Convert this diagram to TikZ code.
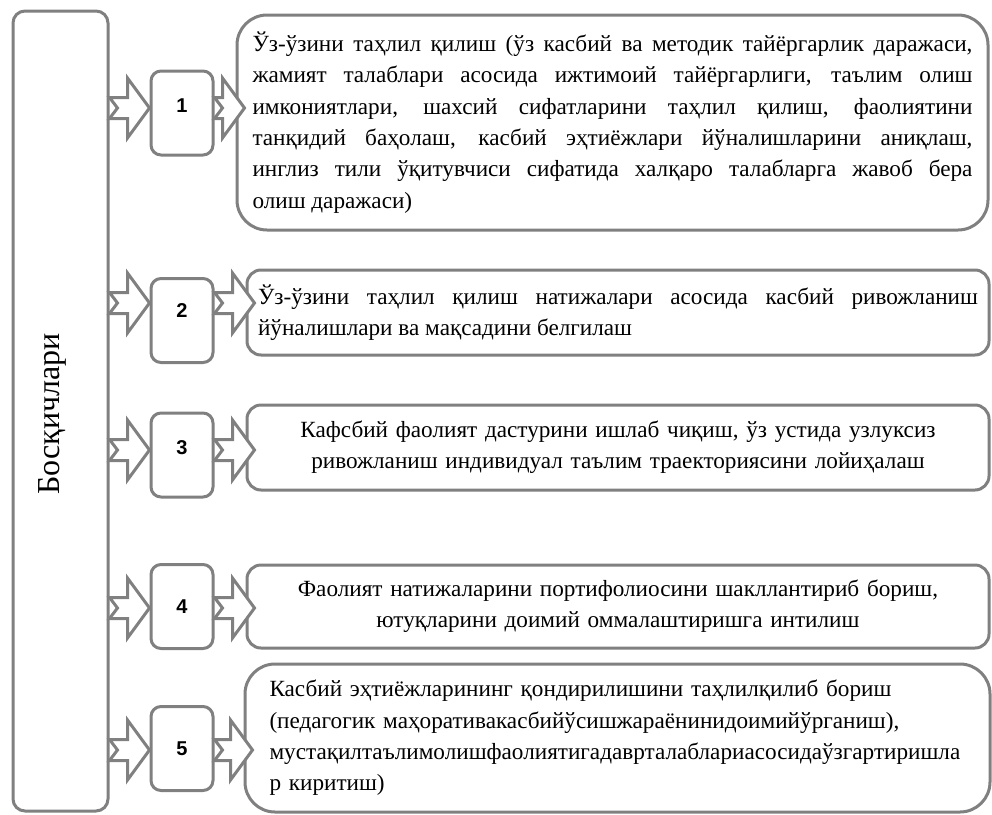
\documentclass[tikz,border=0pt]{standalone}
\usepackage{fontspec}
\setmainfont{Liberation Serif}
\newfontfamily\numfont{Liberation Sans}
\usetikzlibrary{calc}
\definecolor{linegray}{RGB}{128,128,128}
\tikzset{
  outline/.style={draw=linegray, line width=2.25pt, fill=white},
  numbox/.style={outline, rounded corners=7.5pt, minimum width=46.5pt, minimum height=63pt,
    font=\numfont\bfseries\fontsize{15}{18}\selectfont},
  textbox/.style={outline, minimum width=556.5pt, inner sep=0pt,
    font=\fontsize{17.4}{23.5}\selectfont},
  arrowline/.style={outline, line join=miter}
}
% block arrow: from node, tip, row
\newcommand{\stagearrow}[3]{%
  \draw[arrowline] ($(#1.east |- #3)+(0,-10.5)$) -- ($(#2 |- #3)+(-22,-10.5)$) -- ++(0,-19.5)
    -- (#2 |- #3) -- ++(-22,30) -- ++(0,-19.5) -- ($(#1.east |- #3)+(0,10.5)$) -- ++(8,-10.5) -- cycle;}

\begin{document}
\begin{tikzpicture}[x=0.75pt,y=-0.75pt]
  \useasboundingbox (0,0) rectangle (992,814);

  % stages
  \node[outline, rounded corners=9pt, minimum width=71.25pt, minimum height=600pt] (stages) at (60.5,411) {};
  \node[rotate=90, font=\fontsize{24}{28}\selectfont] (lbl) at (52,414) {Босқичлари};

  % numbers
  \node[numbox, text depth=11pt] (n1) at (182,113) {1};
  \node[numbox, text depth=15pt] (n2) at (182,320.5) {2};
  \node[numbox, text depth=11pt] (n3) at (182,455) {3};
  \node[numbox] (n4) at (182,606.5) {4};
  \node[numbox] (n5) at (182,748.5) {5};

  % descriptions
  \node[textbox, rounded corners=22.5pt, minimum width=563.25pt, minimum height=161.25pt,
    text width=540pt, align=justify] (t1) at (612.5,122.5)
    {Ўз-ўзини таҳлил қилиш (ўз касбий ва методик тайёргарлик даражаси,\linebreak
     жамият талаблари асосида ижтимоий тайёргарлиги, таълим олиш\linebreak
     имкониятлари, шахсий сифатларини таҳлил қилиш, фаолиятини\linebreak
     танқидий баҳолаш, касбий эҳтиёжлари йўналишларини аниқлаш,\linebreak
     инглиз тили ўқитувчиси сифатида халқаро талабларга жавоб бера\linebreak
     олиш даражаси)};
  \node[textbox, rounded corners=10.5pt, minimum height=63.75pt,
    text width=540pt, align=justify] (t2) at (618,312.5)
    {Ўз-ўзини таҳлил қилиш натижалари асосида касбий ривожланиш\linebreak
     йўналишлари ва мақсадини белгилаш};
  \node[textbox, rounded corners=10.5pt, minimum height=63.75pt,
    text width=520pt, align=center] (t3) at (618,447.5)
    {Кафсбий фаолият дастурини ишлаб чиқиш, ўз устида узлуксиз\\
     ривожланиш индивидуал таълим траекториясини лойиҳалаш};
  \node[textbox, rounded corners=10.5pt, minimum height=62.25pt,
    text width=520pt, align=center] (t4) at (618,606.5)
    {Фаолият натижаларини портифолиосини шакллантириб бориш,\\
     ютуқларини доимий оммалаштиришга интилиш};
  \node[textbox, rounded corners=22.5pt, minimum width=558.75pt, minimum height=111pt,
    text width=522pt, align=left] (t5) at (617.5,738)
    {Касбий эҳтиёжларининг қондирилишини таҳлилқилиб бориш\\
     (педагогик маҳоративакасбийўсишжараёнинидоимийўрганиш),\\
     мустақилтаълимолишфаолиятигадаврталаблариасосидаўзгартиришла\\
     р киритиш)};

  % rows
  \coordinate (r1) at (0,108);
  \coordinate (r2) at (0,303);
  \coordinate (r3) at (0,450);
  \coordinate (r4) at (0,608);
  \coordinate (r5) at (0,750);
  \coordinate (p1) at ($(t1.west)+(9,0)$);
  \coordinate (p2) at ($(t2.west)+(9,0)$);
  \coordinate (p3) at ($(t3.west)+(9,0)$);
  \coordinate (p4) at ($(t4.west)+(9,0)$);
  \coordinate (p5) at ($(t5.west)+(9,0)$);

  % arrows
  \stagearrow{stages}{n1.west}{r1}
  \stagearrow{n1}{p1}{r1}
  \stagearrow{stages}{n2.west}{r2}
  \stagearrow{n2}{p2}{r2}
  \stagearrow{stages}{n3.west}{r3}
  \stagearrow{n3}{p3}{r3}
  \stagearrow{stages}{n4.west}{r4}
  \stagearrow{n4}{p4}{r4}
  \stagearrow{stages}{n5.west}{r5}
  \stagearrow{n5}{p5}{r5}
\end{tikzpicture}
\end{document}
